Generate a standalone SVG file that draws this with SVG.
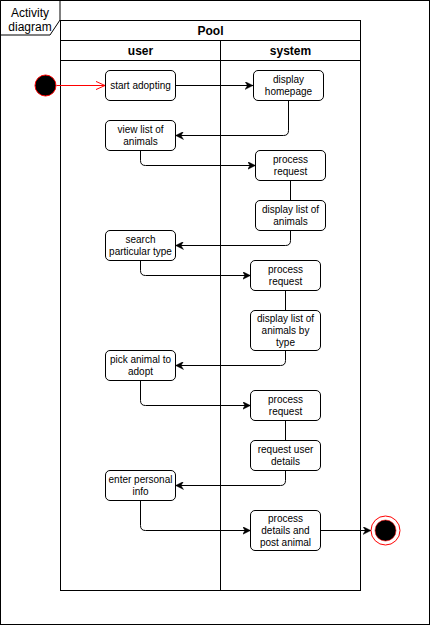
<svg xmlns="http://www.w3.org/2000/svg" width="431" height="626" viewBox="0 0 431 626">
<style>
  .frame{fill:#fff;stroke:#000;stroke-width:1}
  .pool{fill:none;stroke:#000;stroke-width:1}
  .node rect{fill:#fff;stroke:#000;stroke-width:1}
  .t{font-family:"Liberation Sans",Arial,sans-serif;font-size:10px;fill:#000;text-anchor:middle}
  .h{font-family:"Liberation Sans",Arial,sans-serif;font-size:12px;font-weight:bold;fill:#000;text-anchor:middle}
  .lbl{font-family:"Liberation Sans",Arial,sans-serif;font-size:12px;fill:#000;text-anchor:middle}
  .edge{fill:none;stroke:#000;stroke-width:1}
  .edge.arr{marker-end:url(#arrow)}
</style>
<defs>
  <marker id="arrow" viewBox="0 0 10 10" refX="10" refY="5" markerWidth="8" markerHeight="8" markerUnits="userSpaceOnUse" orient="auto">
    <path d="M0,0 L10,5 L0,10 L3,5 z" fill="#000" stroke="#000" stroke-width="0.5"/>
  </marker>
  <marker id="openRed" viewBox="0 0 10 10" refX="10" refY="5" markerWidth="9" markerHeight="9" markerUnits="userSpaceOnUse" orient="auto">
    <path d="M0,0.5 L10,5 L0,9.5" fill="none" stroke="#ff0000" stroke-width="1.1"/>
  </marker>
</defs>
<rect width="431" height="626" fill="#fff"/>
<g id="frame">
  <rect class="pool" x="0.5" y="0.5" width="429" height="624"/>
  <path class="frame" d="M0.5,0.5 H60 V20 L50,35 H0.5 Z"/>
  <text class="lbl" x="30" y="17">Activity</text>
  <text class="lbl" x="30" y="31">diagram</text>
</g>
<g id="pool">
  <rect class="pool" x="60.5" y="20.5" width="300" height="570"/>
  <line class="pool" x1="60.5" y1="40.5" x2="360.5" y2="40.5"/>
  <line class="pool" x1="60.5" y1="60.5" x2="360.5" y2="60.5"/>
  <line class="pool" x1="220.5" y1="40.5" x2="220.5" y2="590.5"/>
  <text class="h" x="210.5" y="35">Pool</text>
  <text class="h" x="140.5" y="55">user</text>
  <text class="h" x="290.5" y="55">system</text>
</g>
<g id="connectors">
  <path d="M56.5,85.5 H105" fill="none" stroke="#ff0000" stroke-width="1" marker-end="url(#openRed)"/>
  <path class="edge arr" d="M175.5,85.5 H253"/>
  <path class="edge arr" d="M288.5,100.5 V130.5 Q288.5,135.5 283.5,135.5 H175.5"/>
  <path class="edge arr" d="M140.5,150.5 V160.5 Q140.5,165.5 145.5,165.5 H255.5"/>
  <path class="edge" d="M290.5,180.5 V200.5"/>
  <path class="edge arr" d="M290.5,230.5 V240.5 Q290.5,245.5 285.5,245.5 H175.5"/>
  <path class="edge arr" d="M140.5,260.5 V270.5 Q140.5,275.5 145.5,275.5 H250.5"/>
  <path class="edge" d="M285.5,290.5 V310.5"/>
  <path class="edge arr" d="M285.5,350.5 V360.5 Q285.5,365.5 280.5,365.5 H175.5"/>
  <path class="edge arr" d="M140.5,380.5 V400.5 Q140.5,405.5 145.5,405.5 H250.5"/>
  <path class="edge" d="M285.5,420.5 V440.5"/>
  <path class="edge arr" d="M285.5,470.5 V480.5 Q285.5,485.5 280.5,485.5 H175.5"/>
  <path class="edge arr" d="M140.5,500.5 V525.5 Q140.5,530.5 145.5,530.5 H250.5"/>
  <path class="edge arr" d="M320.5,530.5 H371"/>
</g>
<g id="start">
  <circle cx="45.5" cy="85.5" r="10.5" fill="#000" stroke="#ff0000" stroke-width="1"/>
</g>
<g id="end">
  <circle cx="385.5" cy="530.5" r="14.5" fill="#fff" stroke="#ff0000" stroke-width="1"/>
  <circle cx="385.5" cy="530.5" r="10.5" fill="#000" stroke="#ff0000" stroke-width="0.6"/>
</g>
<g id="start-adopting" class="node">
  <rect x="105.5" y="70.5" width="70" height="30" rx="4.5"/>
  <text class="t" x="140.5" y="89">start adopting</text>
</g>
<g id="display-homepage" class="node">
  <rect x="253.5" y="70.5" width="70" height="30" rx="4.5"/>
  <text class="t" x="288.5" y="83">display</text>
  <text class="t" x="288.5" y="95">homepage</text>
</g>
<g id="view-list" class="node">
  <rect x="105.5" y="120.5" width="70" height="30" rx="4.5"/>
  <text class="t" x="140.5" y="133">view list of</text>
  <text class="t" x="140.5" y="145">animals</text>
</g>
<g id="process-request-1" class="node">
  <rect x="255.5" y="150.5" width="70" height="30" rx="4.5"/>
  <text class="t" x="290.5" y="163">process</text>
  <text class="t" x="290.5" y="175">request</text>
</g>
<g id="display-list" class="node">
  <rect x="255.5" y="200.5" width="70" height="30" rx="4.5"/>
  <text class="t" x="290.5" y="213">display list of</text>
  <text class="t" x="290.5" y="225">animals</text>
</g>
<g id="search-type" class="node">
  <rect x="105.5" y="230.5" width="70" height="30" rx="4.5"/>
  <text class="t" x="140.5" y="243">search</text>
  <text class="t" x="140.5" y="255">particular type</text>
</g>
<g id="process-request-2" class="node">
  <rect x="250.5" y="260.5" width="70" height="30" rx="4.5"/>
  <text class="t" x="285.5" y="273">process</text>
  <text class="t" x="285.5" y="285">request</text>
</g>
<g id="display-by-type" class="node">
  <rect x="250.5" y="310.5" width="70" height="40" rx="4.5"/>
  <text class="t" x="285.5" y="322">display list of</text>
  <text class="t" x="285.5" y="334">animals by</text>
  <text class="t" x="285.5" y="346">type</text>
</g>
<g id="pick-animal" class="node">
  <rect x="105.5" y="350.5" width="70" height="30" rx="4.5"/>
  <text class="t" x="140.5" y="363">pick animal to</text>
  <text class="t" x="140.5" y="375">adopt</text>
</g>
<g id="process-request-3" class="node">
  <rect x="250.5" y="390.5" width="70" height="30" rx="4.5"/>
  <text class="t" x="285.5" y="403">process</text>
  <text class="t" x="285.5" y="415">request</text>
</g>
<g id="request-details" class="node">
  <rect x="250.5" y="440.5" width="70" height="30" rx="4.5"/>
  <text class="t" x="285.5" y="453">request user</text>
  <text class="t" x="285.5" y="465">details</text>
</g>
<g id="enter-info" class="node">
  <rect x="105.5" y="470.5" width="70" height="30" rx="4.5"/>
  <text class="t" x="140.5" y="483">enter personal</text>
  <text class="t" x="140.5" y="495">info</text>
</g>
<g id="process-details" class="node">
  <rect x="250.5" y="510.5" width="70" height="40" rx="4.5"/>
  <text class="t" x="285.5" y="522">process</text>
  <text class="t" x="285.5" y="534">details and</text>
  <text class="t" x="285.5" y="546">post animal</text>
</g>
</svg>
